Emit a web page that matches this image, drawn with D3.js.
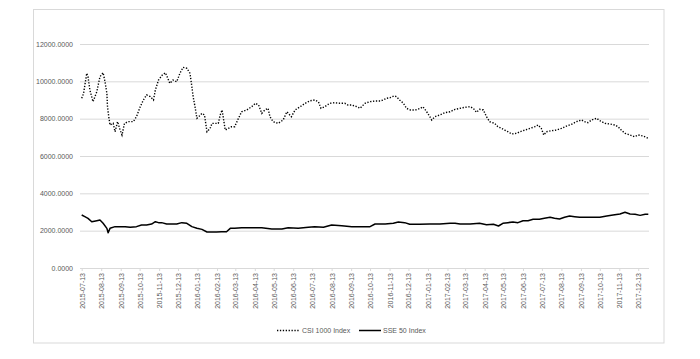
<!DOCTYPE html>
<html>
<head>
<meta charset="utf-8">
<script src="https://cdn.jsdelivr.net/npm/d3@7"></script>
<style>
  html, body { margin: 0; padding: 0; background: #fff; }
  svg text { font-family: "Liberation Sans", Arial, sans-serif; }
</style>
</head>
<body>
<svg id="chart" width="700" height="359"></svg>
<script>
// ---- data ----
const startDate = "2015-07-13";
const endDate = "2017-12-29";
const seriesNames = ["CSI 1000 Index", "SSE 50 Index"];

// day offsets from startDate and values, CSI 1000 Index
const csiDays = [0,3,8,10,13,18,24,29,34,37,40,41,43,45,50,53,57,61,64,68,74,82,87,93,98,103,109,114,117,122,128,133,140,145,151,156,161,167,172,175,177,180,183,186,191,195,199,204,207,212,217,220,223,228,233,238,243,249,254,262,270,276,281,286,291,296,299,304,312,320,326,333,339,347,355,363,370,376,380,386,394,402,410,418,423,429,437,442,450,458,466,474,479,484,490,496,500,505,511,516,522,530,538,542,548,553,556,561,569,577,585,593,601,609,617,622,627,632,638,643,648,656,661,667,672,677,683,691,696,704,712,720,725,730,734,738,746,754,762,770,778,786,794,799,804,810,818,823,831,839,847,852,857,863,871,878,884,892,900];
const csiValues = [9091,9357,10430,10250,9535,8910,9445,10250,10460,9980,9357,8640,8105,7660,7750,7300,7840,7390,7125,7750,7840,7840,8105,8640,9000,9270,9180,9000,9535,10070,10340,10460,9895,10070,9980,10430,10750,10700,10430,9715,9180,8640,8020,8105,8285,8200,7300,7480,7750,7750,7750,8200,8465,7390,7480,7570,7570,8020,8370,8465,8640,8825,8730,8285,8465,8555,8105,7840,7750,7930,8370,8105,8465,8640,8825,8960,9000,8910,8555,8640,8825,8855,8825,8825,8730,8730,8640,8555,8825,8910,8945,8945,9000,9090,9125,9215,9180,9000,8825,8555,8465,8465,8555,8640,8370,8105,7930,8105,8200,8320,8370,8500,8555,8610,8640,8555,8340,8500,8465,8105,7840,7750,7570,7480,7390,7300,7180,7215,7300,7390,7480,7570,7660,7480,7125,7300,7355,7390,7480,7605,7700,7840,7930,7840,7785,7930,8020,7890,7750,7715,7660,7570,7390,7215,7125,7035,7125,7070,6950];

// day offsets from startDate and values, SSE 50 Index
const sseDays = [0,5,10,16,24,29,34,40,42,45,53,61,69,77,87,95,103,111,117,122,127,135,143,151,159,167,175,183,191,199,206,214,222,230,236,243,254,270,286,302,318,328,344,360,370,384,397,413,429,445,458,466,482,495,503,513,521,537,553,569,585,593,601,617,632,643,654,662,669,677,685,693,701,709,717,727,735,744,751,759,767,775,783,791,807,823,834,844,855,863,871,879,887,895,900];
const sseValues = [2839,2750,2660,2480,2535,2570,2395,2125,1890,2125,2215,2215,2215,2180,2215,2305,2305,2355,2480,2430,2430,2355,2355,2355,2430,2395,2215,2125,2070,1930,1930,1930,1945,1945,2125,2125,2160,2160,2160,2090,2090,2160,2125,2180,2215,2180,2305,2265,2215,2215,2215,2355,2355,2395,2465,2430,2340,2340,2355,2355,2395,2395,2355,2355,2395,2320,2340,2250,2395,2430,2465,2430,2535,2535,2610,2610,2660,2715,2660,2625,2715,2785,2750,2715,2715,2715,2785,2839,2893,2985,2893,2875,2820,2875,2875];

const yTickValues = [0,2000,4000,6000,8000,10000,12000];
const yTickLabels = ["0.0000","2000.0000","4000.0000","6000.0000","8000.0000","10000.0000","12000.0000"];
const xTickLabels = ["2015-07-13","2015-08-13","2015-09-13","2015-10-13","2015-11-13","2015-12-13",
  "2016-01-13","2016-02-13","2016-03-13","2016-04-13","2016-05-13","2016-06-13","2016-07-13",
  "2016-08-13","2016-09-13","2016-10-13","2016-11-13","2016-12-13","2017-01-13","2017-02-13",
  "2017-03-13","2017-04-13","2017-05-13","2017-06-13","2017-07-13","2017-08-13","2017-09-13",
  "2017-10-13","2017-11-13","2017-12-13"];

// ---- drawing ----
const parse = d3.utcParse("%Y-%m-%d");
const t0 = parse(startDate);
const toPoints = (days, vals) => days.map((d, i) => ({date: d3.utcDay.offset(t0, d), value: vals[i]}));
const csi = toPoints(csiDays, csiValues);
const sse = toPoints(sseDays, sseValues);

const svg = d3.select("#chart");
const W = 700, H = 359;
const plot = {left: 80, right: 649, top: 44, bottom: 268};

// outer border
svg.append("rect")
  .attr("x", 33.5).attr("y", 9.5)
  .attr("width", 630.5).attr("height", 333.5)
  .attr("fill", "#fff").attr("stroke", "#d9d9d9").attr("stroke-width", 1);

const x = d3.scaleUtc()
  .domain([t0, parse(endDate)])
  .range([plot.left + 1.7, plot.right - 0.7]);
const y = d3.scaleLinear().domain([0, 12000]).range([plot.bottom, plot.top]);

// gridlines + y labels
const yAxis = d3.axisLeft(y)
  .tickValues(yTickValues)
  .tickSize(-(plot.right - plot.left))
  .tickPadding(7)
  .tickFormat((d, i) => yTickLabels[i]);
const gy = svg.append("g")
  .attr("transform", `translate(${plot.left},0)`)
  .call(yAxis);
gy.select(".domain").remove();
gy.selectAll(".tick line").attr("stroke", "#d9d9d9").attr("stroke-width", 1);
gy.selectAll(".tick text")
  .attr("fill", "#595959").attr("font-size", "7px");

// x axis
const xTickDates = xTickLabels.map(parse);
const xAxis = d3.axisBottom(x)
  .tickValues(xTickDates)
  .tickSize(3)
  .tickSizeOuter(0)
  .tickFormat((d, i) => xTickLabels[i]);
const gx = svg.append("g")
  .attr("transform", `translate(0,${plot.bottom})`)
  .call(xAxis);
gx.select(".domain")
  .attr("d", `M${plot.left},0.5H${plot.right}`)
  .attr("stroke", "#d9d9d9");
gx.selectAll(".tick line").attr("stroke", "#d9d9d9");
gx.selectAll(".tick text")
  .attr("fill", "#595959").attr("font-size", "7px")
  .attr("text-anchor", "end")
  .attr("dy", "0.35em")
  .attr("transform", "translate(0,5) rotate(-90)")
  .attr("x", 0).attr("y", 0);

// lines
const line = d3.line().x(d => x(d.date)).y(d => y(d.value));
svg.append("path").datum(sse)
  .attr("fill", "none").attr("stroke", "#000")
  .attr("stroke-width", 1.5).attr("stroke-linejoin", "round")
  .attr("d", line);
svg.append("path").datum(csi)
  .attr("fill", "none").attr("stroke", "#000")
  .attr("stroke-width", 1.4).attr("stroke-dasharray", "1.3,1.6")
  .attr("d", line);

// legend
const legY = 330.5;
const leg = svg.append("g");
leg.append("line").attr("x1", 277).attr("x2", 300).attr("y1", legY).attr("y2", legY)
  .attr("stroke", "#000").attr("stroke-width", 1.4).attr("stroke-dasharray", "1.3,1.6");
leg.append("text").attr("x", 302).attr("y", legY).attr("dy", "0.35em")
  .attr("font-size", "7px").attr("fill", "#595959").text(seriesNames[0]);
leg.append("line").attr("x1", 359).attr("x2", 381).attr("y1", legY).attr("y2", legY)
  .attr("stroke", "#000").attr("stroke-width", 1.5);
leg.append("text").attr("x", 383).attr("y", legY).attr("dy", "0.35em")
  .attr("font-size", "7px").attr("fill", "#595959").text(seriesNames[1]);
</script>
</body>
</html>
